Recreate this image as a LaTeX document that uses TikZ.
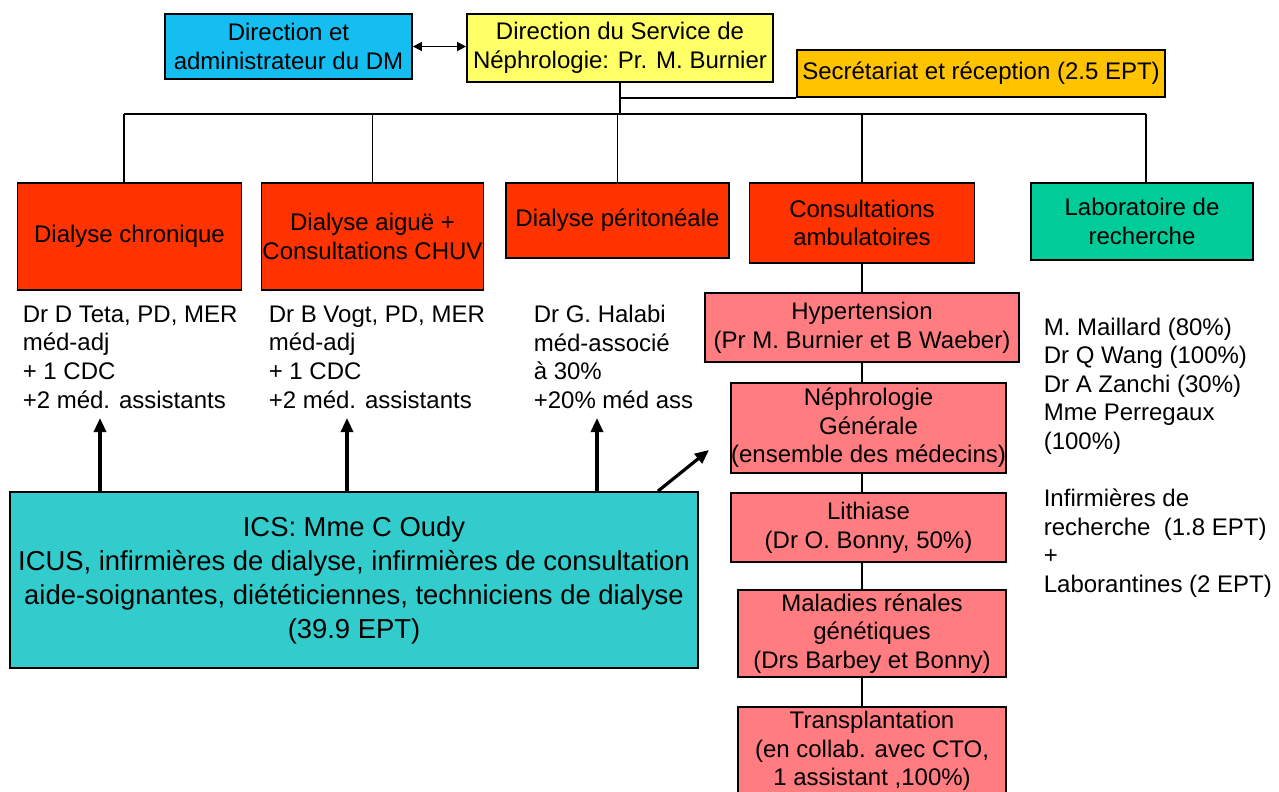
\documentclass[tikz,border=0pt]{standalone}
\usepackage{fontspec}
\setmainfont{Liberation Sans}
\usetikzlibrary{arrows.meta}

\definecolor{dmblue}{RGB}{20,190,240}
\definecolor{diryellow}{RGB}{255,255,102}
\definecolor{secorange}{RGB}{255,195,0}
\definecolor{unitred}{RGB}{255,51,0}
\definecolor{labgreen}{RGB}{0,204,153}
\definecolor{consultpink}{RGB}{255,124,128}
\definecolor{icsteal}{RGB}{51,204,204}

\begin{document}
\begin{tikzpicture}[
            x=0.5pt, y=-0.5pt, font=\fontsize{12}{14.3}\selectfont, align=center, line width=0.8,
            box/.style={draw, line width=0.9, inner sep=0},
            staff/.style={anchor=west, align=left, inner sep=0},
            up/.style={line width=1.6, -{Triangle[length=7pt, width=6pt]}}
        ]
            \useasboundingbox (0,0) rectangle (1279,792);
            \clip (0,0) rectangle (1279,792);

            % direction
            \node[box, fill=dmblue, minimum width=123.5pt, minimum height=32.5pt] (dm) at (288.5,46.5)
                {Direction et\\administrateur du DM};
            \node[box, fill=diryellow, minimum width=153pt, minimum height=34pt] (dir) at (620,48)
                {Direction du Service de\\Néphrologie: Pr. M. Burnier};
            \node[box, fill=secorange, minimum width=184pt, minimum height=23.5pt] (sec) at (981,73.5)
                {Secrétariat et réception (2.5 EPT)};

            \draw[{Triangle[length=4.5pt,width=4.5pt]}-{Triangle[length=4.5pt,width=4.5pt]}] (dm.east) -- (dm.east -| dir.west);

            % units
            \node[box, fill=unitred, minimum width=112pt, minimum height=53.5pt] (chron) at (129.5,236.5) {Dialyse chronique};
            \node[box, fill=unitred, minimum width=111pt, minimum height=53.5pt] (aigue) at (372.5,236.5)
                {Dialyse aiguë +\\Consultations CHUV};
            \node[box, fill=unitred, minimum width=111.5pt, minimum height=37.5pt] (perit) at (617.5,220.5) {Dialyse péritonéale};
            \node[box, fill=unitred, minimum width=112.5pt, minimum height=40pt] (consult) at (862,223)
                {Consultations\\ambulatoires};
            \node[box, fill=labgreen, minimum width=111pt, minimum height=38.5pt] (labo) at (1142,221.5)
                {Laboratoire de\\recherche};

            % bus
            \coordinate (bus0) at (124,114);
            \coordinate (bus1) at (1146,114);
            \draw (bus0) -- (bus1);
            \draw (dir.south) -- (dir.south |- bus0);
            \draw (dir.south |- sec.south) -- (sec.south west);
            \draw (bus0) -- (bus0 |- chron.north);
            \draw (aigue.north |- bus0) -- (aigue.north);
            \draw (perit.north |- bus0) -- (perit.north);
            \draw (consult.north |- bus0) -- (consult.north);
            \draw (bus1) -- (bus1 |- labo.north);

            % medecins
            \node[staff] (teta) at (22,357) {Dr D Teta, PD, MER\\méd-adj\\+ 1 CDC\\+2 méd. assistants};
            \node[staff] (vogt) at (268,357) {Dr B Vogt, PD, MER\\méd-adj\\+ 1 CDC\\+2 méd. assistants};
            \node[staff] (halabi) at (533,357) {Dr G. Halabi\\méd-associé\\à 30\%\\+20\% méd ass};

            % consultations
            \node[box, fill=consultpink, minimum width=157pt, minimum height=34.5pt] (hyp) at (862,327.5)
                {Hypertension\\(Pr M. Burnier et B Waeber)};
            \node[box, fill=consultpink, minimum width=137.5pt, minimum height=45pt] (neph) at (868.5,428)
                {Néphrologie\\Générale\\(ensemble des médecins)};
            \node[box, fill=consultpink, minimum width=137.5pt, minimum height=34.5pt] (lith) at (868.5,527.5)
                {Lithiase\\(Dr O. Bonny, 50\%)};
            \node[box, fill=consultpink, minimum width=134pt, minimum height=43.5pt] (mal) at (872,633.5)
                {Maladies rénales\\génétiques\\(Drs Barbey et Bonny)};
            \node[box, fill=consultpink, minimum width=134pt, minimum height=44pt] (trans) at (872,751)
                {Transplantation\\(en collab. avec CTO,\\1 assistant ,100\%)};

            \draw (consult.south) -- (hyp.north);
            \draw (hyp.south) -- (hyp.south |- neph.north);
            \draw (hyp.south |- neph.south) -- (hyp.south |- lith.north);
            \draw (hyp.south |- lith.south) -- (hyp.south |- mal.north);
            \draw (hyp.south |- mal.south) -- (hyp.south |- trans.north);

            % recherche
            \node[staff] (cherch) at (1043,386)
                {M. Maillard (80\%)\\Dr Q Wang (100\%)\\Dr A Zanchi (30\%)\\Mme Perregaux\\(100\%)};
            \node[staff] (inf) at (1043,543)
                {Infirmières de\\recherche\ \ (1.8 EPT)\\+\\Laborantines (2 EPT)};

            % soins
            \node[box, fill=icsteal, minimum width=344pt, minimum height=88pt,
                font=\fontsize{13.7}{17}\selectfont] (ics) at (354,580)
                {ICS: Mme C Oudy\\ICUS, infirmières de dialyse, infirmières de consultation\\aide-soignantes, diététiciennes, techniciens de dialyse\\(39.9 EPT)};

            \coordinate (t1) at (100,418);
            \coordinate (t2) at (347,418);
            \coordinate (t3) at (597,418);
            \coordinate (t4) at (709,450);
            \draw[up] (t1 |- ics.north) -- (t1);
            \draw[up] (t2 |- ics.north) -- (t2);
            \draw[up] (t3 |- ics.north) -- (t3);
            \draw[up] (ics.north -| 658,0) -- (t4);

        \end{tikzpicture}
\end{document}
